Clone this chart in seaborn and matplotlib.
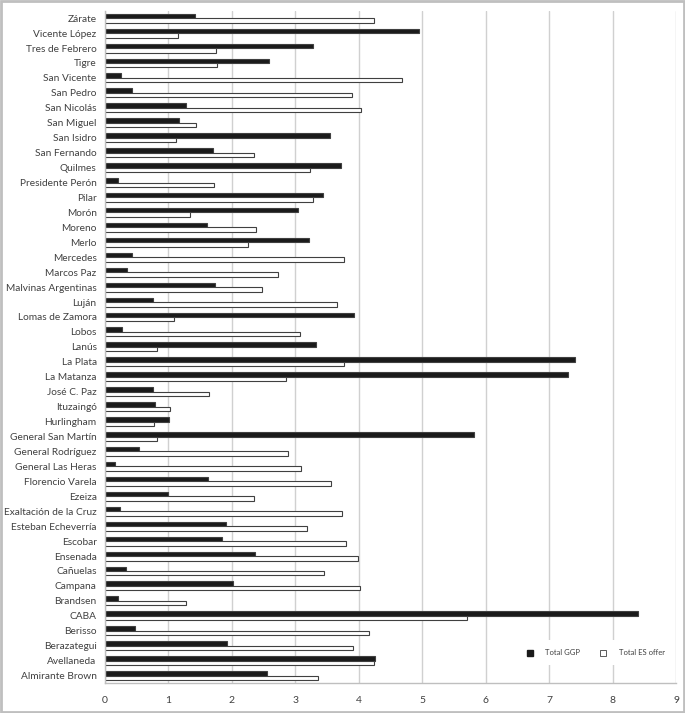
import matplotlib
matplotlib.use("Agg")
import matplotlib.pyplot as plt
import pandas as pd
import seaborn as sns
from matplotlib.lines import Line2D
from matplotlib.patches import Rectangle

# Municipalities, top to bottom as in the chart
places = ["Zárate", "Vicente López", "Tres de Febrero", "Tigre", "San Vicente", "San Pedro",
          "San Nicolás", "San Miguel", "San Isidro", "San Fernando", "Quilmes", "Presidente Perón",
          "Pilar", "Morón", "Moreno", "Merlo", "Mercedes", "Marcos Paz", "Malvinas Argentinas",
          "Luján", "Lomas de Zamora", "Lobos", "Lanús", "La Plata", "La Matanza", "José C. Paz",
          "Ituzaingó", "Hurlingham", "General San Martín", "General Rodríguez", "General Las Heras",
          "Florencio Varela", "Ezeiza", "Exaltación de la Cruz", "Esteban Echeverría", "Escobar",
          "Ensenada", "Cañuelas", "Campana", "Brandsen", "CABA", "Berisso", "Berazategui",
          "Avellaneda", "Almirante Brown"]

total_ggp = [1.42, 4.95, 3.27, 2.58, 0.25, 0.42, 1.27, 1.16, 3.55, 1.70, 3.71, 0.21,
             3.43, 3.04, 1.61, 3.22, 0.42, 0.34, 1.73, 0.76, 3.92, 0.27, 3.32, 7.40,
             7.30, 0.75, 0.79, 1.01, 5.82, 0.54, 0.16, 1.63, 0.99, 0.23, 1.91, 1.85,
             2.37, 0.33, 2.01, 0.20, 8.40, 0.48, 1.92, 4.26, 2.55]

total_es = [4.24, 1.15, 1.75, 1.76, 4.68, 3.89, 4.03, 1.43, 1.12, 2.34, 3.23, 1.72,
            3.27, 1.34, 2.38, 2.25, 3.76, 2.73, 2.47, 3.66, 1.09, 3.07, 0.82, 3.76,
            2.85, 1.64, 1.03, 0.77, 0.82, 2.88, 3.09, 3.56, 2.35, 3.74, 3.18, 3.80,
            3.98, 3.45, 4.01, 1.28, 5.70, 4.16, 3.90, 4.23, 3.35]

series = ["Total GGP", "Total ES offer"]

df = pd.DataFrame({"place": places, series[0]: total_ggp, series[1]: total_es})
long = df.melt(id_vars="place", var_name="series", value_name="value")

sns.set_style("white")
plt.rcParams["font.family"] = ["Lato", "DejaVu Sans"]

fig = plt.figure(figsize=(6.85, 7.13), dpi=100)
ax = fig.add_axes([0.1533, 0.042, 0.834, 0.943])

sns.barplot(data=long, y="place", x="value", hue="series", order=places,
            hue_order=series, palette=["#1a1a1a", "white"], orient="h",
            width=0.6, gap=0, edgecolor="#404040", linewidth=0.8,
            legend=False, ax=ax)

ax.set_xlim(0, 9)
ax.set_xticks(range(10))
ax.set_xlabel("")
ax.set_ylabel("")
ax.grid(axis="x", color="#d0d0d0", linewidth=1)
ax.set_axisbelow(True)
for s in ["top", "right"]:
    ax.spines[s].set_visible(False)
for s in ["left", "bottom"]:
    ax.spines[s].set_color("#bfbfbf")
    ax.spines[s].set_linewidth(1)

ax.tick_params(axis="y", length=0, labelsize=7.3, labelcolor="#404040", pad=6)
ax.set_yticks([i + 0.5 for i in range(-1, len(places))], minor=True)
ax.tick_params(axis="y", which="minor", length=3, color="#bfbfbf")
ax.tick_params(axis="x", length=3, color="#bfbfbf", labelsize=7.5, labelcolor="#404040", pad=6)

handles = [Line2D([], [], marker="s", linestyle="", markersize=4.5,
                  markerfacecolor="#1a1a1a", markeredgecolor="#1a1a1a"),
           Line2D([], [], marker="s", linestyle="", markersize=4.5,
                  markerfacecolor="white", markeredgecolor="#404040", markeredgewidth=0.6)]
leg = ax.legend(handles, series, ncol=2, loc="center", bbox_to_anchor=(0.855, 0.045),
                fontsize=5.5, frameon=True, framealpha=1, facecolor="white",
                edgecolor="none", handletextpad=1.0, columnspacing=2.0,
                borderpad=1.2, fancybox=False)
for t in leg.get_texts():
    t.set_color("#404040")

fig.patches.append(Rectangle((0.002, 0.002), 0.996, 0.996, transform=fig.transFigure,
                             fill=False, edgecolor="#bfbfbf", linewidth=2))

fig.savefig("out.png", dpi=100)
